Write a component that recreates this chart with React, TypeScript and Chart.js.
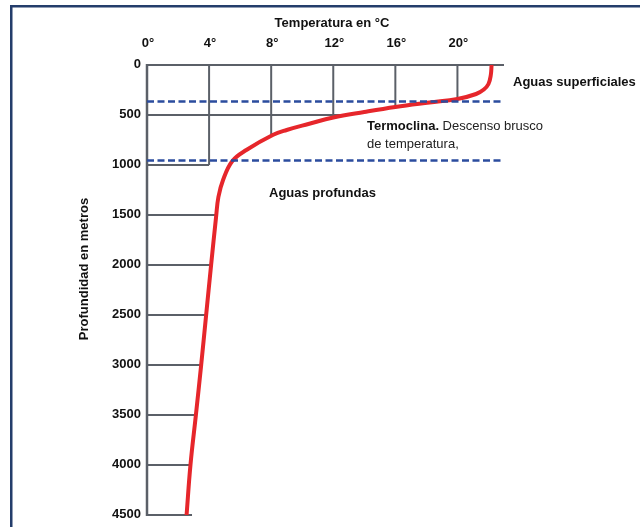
import React, { useEffect, useRef } from "react";
import { Chart, registerables } from "chart.js";

Chart.register(...registerables);

// Temperature profile (°C) vs depth (m)
const temps = [22.2, 22.15, 22.0, 21.7, 21.2, 20.0, 18.2, 16.0, 14.0, 12.0, 10.4, 9.0, 8.1, 6.4, 5.5, 4.9, 4.6, 4.45, 4.13, 3.81, 3.49, 3.15, 2.8, 2.55];
const depths = [0, 100, 190, 245, 290, 340, 375, 420, 470, 525, 590, 650, 700, 850, 960, 1150, 1320, 1520, 2000, 2500, 3000, 3500, 4000, 4500];

// Thermocline limits (m)
const thermoTop = 365;
const thermoBottom = 955;

// Axis ticks
const xTicks = [0, 4, 8, 12, 16, 20];
const xTickLabels = ["0°", "4°", "8°", "12°", "16°", "20°"];
const yTicks = [0, 500, 1000, 1500, 2000, 2500, 3000, 3500, 4000, 4500];
const yTickLabels = ["0", "500", "1000", "1500", "2000", "2500", "3000", "3500", "4000", "4500"];

// Grid line extents (data units), as drawn in the picture
const vGridTemps = [4, 8, 12, 16, 20];
const vGridEnd = [1000, 700, 530, 420, 340];
const hGridEnd = [23, 12.9, 4.0, 4.5, 4.1, 3.8, 3.5, 3.1, 2.8, 2.9];

const xMax = 23;
const yMax = 4500;

const BOLD = 'bold 13px "Liberation Sans", Arial, sans-serif';
const REG = '13px "Liberation Sans", Arial, sans-serif';

const framePlugin = {
  id: "framePlugin",
  beforeDraw(chart: any) {
    const ctx = chart.ctx;
    ctx.save();
    ctx.fillStyle = "#ffffff";
    ctx.fillRect(0, 0, chart.width, chart.height);
    ctx.fillStyle = "#243d6b";
    ctx.fillRect(10, 5, 2.5, chart.height - 5);
    ctx.fillRect(10, 5, chart.width - 10, 2.5);
    ctx.restore();
  },
  beforeDatasetsDraw(chart: any) {
    const ctx = chart.ctx;
    const xs = chart.scales.x;
    const ys = chart.scales.y;
    ctx.save();
    ctx.strokeStyle = "#5b6068";
    ctx.lineWidth = 2;
    ctx.lineCap = "butt";
    yTicks.forEach((d, i) => {
      const y = ys.getPixelForValue(d);
      ctx.beginPath();
      ctx.moveTo(xs.getPixelForValue(0), y);
      ctx.lineTo(xs.getPixelForValue(hGridEnd[i]), y);
      ctx.stroke();
    });
    vGridTemps.forEach((t, i) => {
      const x = xs.getPixelForValue(t);
      ctx.beginPath();
      ctx.moveTo(x, ys.getPixelForValue(0));
      ctx.lineTo(x, ys.getPixelForValue(vGridEnd[i]));
      ctx.stroke();
    });
    ctx.lineWidth = 2.5;
    ctx.beginPath();
    const x0 = xs.getPixelForValue(0);
    ctx.moveTo(x0, ys.getPixelForValue(0) - 1);
    ctx.lineTo(x0, ys.getPixelForValue(yMax) + 1);
    ctx.stroke();
    ctx.restore();
  },
  afterDraw(chart: any) {
    const ctx = chart.ctx;
    const xs = chart.scales.x;
    const ys = chart.scales.y;
    ctx.save();
    ctx.fillStyle = "#111111";
    ctx.font = BOLD;
    ctx.textBaseline = "middle";
    ctx.textAlign = "center";
    xTicks.forEach((t, i) => {
      ctx.fillText(xTickLabels[i], xs.getPixelForValue(t) + 1, 43);
    });
    ctx.textAlign = "right";
    yTicks.forEach((d, i) => {
      ctx.fillText(yTickLabels[i], 141, ys.getPixelForValue(d) - 1);
    });
    ctx.textAlign = "center";
    ctx.fillText("Temperatura en °C", 332, 23);
    ctx.save();
    ctx.translate(84, 269);
    ctx.rotate(-Math.PI / 2);
    ctx.fillText("Profundidad en metros", 0, 0);
    ctx.restore();
    ctx.textAlign = "left";
    ctx.fillText("Aguas superficiales", 513, 82);
    ctx.fillText("Aguas profundas", 269, 193);
    ctx.fillText("Termoclina.", 367, 126);
    const w = ctx.measureText("Termoclina.").width;
    ctx.font = REG;
    ctx.fillStyle = "#222222";
    ctx.fillText(" Descenso brusco", 367 + w, 126);
    ctx.fillText("de temperatura,", 367, 144);
    ctx.restore();
  },
};

export default function App() {
  const ref = useRef<HTMLCanvasElement | null>(null);
  useEffect(() => {
    document.body.style.margin = "0";
    const canvas = ref.current;
    if (!canvas) return;
    const chart = new Chart(canvas, {
      type: "scatter",
      data: {
        datasets: [
          {
            label: "top",
            data: [
              { x: 0, y: thermoTop },
              { x: xMax, y: thermoTop },
            ],
            showLine: true,
            borderColor: "#2b4c9e",
            borderWidth: 2.5,
            borderDash: [7, 3.5],
            pointRadius: 0,
          },
          {
            label: "bottom",
            data: [
              { x: 0, y: thermoBottom },
              { x: xMax, y: thermoBottom },
            ],
            showLine: true,
            borderColor: "#2b4c9e",
            borderWidth: 2.5,
            borderDash: [7, 3.5],
            pointRadius: 0,
          },
          {
            label: "Temperatura",
            data: temps.map((t, i) => ({ x: t, y: depths[i] })),
            showLine: true,
            borderColor: "#e6262b",
            borderWidth: 4,
            pointRadius: 0,
            tension: 0.4,
            borderCapStyle: "round",
            borderJoinStyle: "round",
          },
        ],
      },
      options: {
        responsive: false,
        animation: false,
        devicePixelRatio: 1,
        layout: { padding: { left: 0, right: 136, top: 0, bottom: 12 } },
        plugins: { legend: { display: false }, tooltip: { enabled: false } },
        scales: {
          x: {
            type: "linear",
            position: "top",
            min: 0,
            max: xMax,
            grid: { display: false, drawTicks: false },
            border: { display: false },
            ticks: { display: false },
            afterFit: (s: any) => {
              s.height = 65;
            },
          },
          y: {
            type: "linear",
            reverse: true,
            min: 0,
            max: yMax,
            grid: { display: false, drawTicks: false },
            border: { display: false },
            ticks: { display: false },
            afterFit: (s: any) => {
              s.width = 147;
            },
          },
        },
      },
      plugins: [framePlugin],
    } as any);
    return () => chart.destroy();
  }, []);
  return (
    <div style={{ width: 640, height: 527 }}>
      <canvas ref={ref} width={640} height={527} style={{ display: "block" }} />
    </div>
  );
}
